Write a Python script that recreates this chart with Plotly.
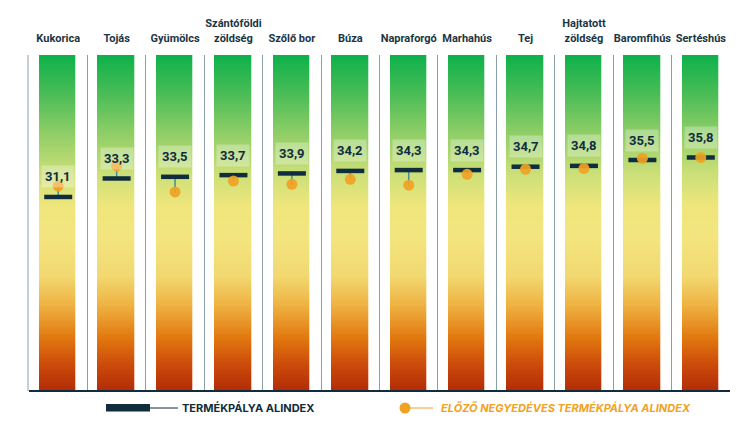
import numpy as np
import plotly.graph_objects as go

categories = ["Kukorica", "Tojás", "Gyümölcs", "Szántóföldi<br>zöldség", "Szőlő bor", "Búza",
              "Napraforgó", "Marhahús", "Tej", "Hajtatott<br>zöldség", "Baromfihús", "Sertéshús"]
current_values = [31.1, 33.3, 33.5, 33.7, 33.9, 34.2, 34.3, 34.3, 34.7, 34.8, 35.5, 35.8]
previous_values = [32.4, 34.8, 31.7, 33.0, 32.6, 33.2, 32.5, 33.8, 34.4, 34.5, 35.7, 35.8]
legend_labels = ["TERMÉKPÁLYA ALINDEX", "ELŐZŐ NEGYEDÉVES TERMÉKPÁLYA ALINDEX"]

Y_MIN, Y_MAX = 8, 48
NAVY = "#0f2d3d"
ORANGE = "#f0a224"
TEAL = "#3f8f9b"
FONT = "Roboto"
LEGEND_FONT = "Inter"

# page has an 8px body margin; figure sized to fit the window
OFF = 8
W, H = 742, 415
L, R, T, B = 21, 20, 47, 32
pw, ph = W - L - R, H - T - B

def px(x):  # page pixel -> paper x
    return (x - OFF - L) / pw

def py(y):  # page pixel -> paper y
    return (H - B - (y - OFF)) / ph

fig = go.Figure()

# gradient columns (background scale of each product)
grid = np.linspace(Y_MIN, Y_MAX, 241)
z = np.tile(grid.reshape(-1, 1), (1, len(categories)))
colorscale = [
    [0.00, "#b22c08"],
    [0.08, "#cc4c0a"],
    [0.16, "#e27a10"],
    [0.25, "#eeb040"],
    [0.34, "#f2d870"],
    [0.45, "#f3e47e"],
    [0.55, "#efe67c"],
    [0.64, "#cfe079"],
    [0.76, "#93cf68"],
    [0.88, "#4dbd57"],
    [1.00, "#0db14b"],
]
fig.add_trace(go.Heatmap(
    x=categories, y=grid, z=z, colorscale=colorscale, zmin=Y_MIN, zmax=Y_MAX,
    showscale=False, xgap=21.7, ygap=0, hoverinfo="skip", zsmooth=False,
))

# connectors
cx, cy = [], []
for c, cur, prev in zip(categories, current_values, previous_values):
    cx += [c, c, None]
    cy += [cur, prev, None]
fig.add_trace(go.Scatter(x=cx, y=cy, mode="lines", line=dict(color=TEAL, width=1.5),
                         hoverinfo="skip", showlegend=False))

# current markers
fig.add_trace(go.Scatter(
    x=categories, y=current_values, mode="markers",
    marker=dict(symbol="line-ew", size=20, line=dict(color=NAVY, width=4.5)),
    showlegend=False,
))
# previous markers
fig.add_trace(go.Scatter(
    x=categories, y=previous_values, mode="markers",
    marker=dict(symbol="circle", size=11, color=ORANGE, opacity=0.92, line=dict(width=0)),
    showlegend=False,
))

annotations = []
for c, cur in zip(categories, current_values):
    annotations.append(dict(
        x=c, y=cur, xref="x", yref="y", yshift=20, showarrow=False,
        text=f"<b>{cur:.1f}</b>".replace(".", ","),
        font=dict(family=FONT, size=13, color=NAVY),
        bgcolor="rgba(255,255,255,0.3)", borderpad=3,
    ))

# legend (drawn)
shapes = []
shapes.append(dict(type="rect", xref="paper", yref="paper", x0=px(106), x1=px(150), y0=py(411.5), y1=py(404),
                   fillcolor=NAVY, line=dict(width=0)))
shapes.append(dict(type="line", xref="paper", yref="paper", x0=px(150), x1=px(178), y0=py(408), y1=py(408),
                   line=dict(color=NAVY, width=1)))
shapes.append(dict(type="line", xref="paper", yref="paper", x0=px(405), x1=px(433), y0=py(408), y1=py(408),
                   line=dict(color=ORANGE, width=1)))
shapes.append(dict(type="circle", xref="paper", yref="paper", x0=px(399.5), x1=px(410.5), y0=py(413.5), y1=py(402.5),
                   fillcolor=ORANGE, line=dict(width=0)))
# bottom axis line
shapes.append(dict(type="line", xref="paper", yref="paper", x0=0, x1=1, y0=0, y1=0,
                   line=dict(color=NAVY, width=2)))

annotations.append(dict(x=px(180), y=py(408), xref="paper", yref="paper", xanchor="left", yanchor="middle",
                        showarrow=False, text=f"<b>{legend_labels[0]}</b>",
                        font=dict(family=LEGEND_FONT, size=11, color=NAVY)))
annotations.append(dict(x=px(439), y=py(408), xref="paper", yref="paper", xanchor="left", yanchor="middle",
                        showarrow=False, text=f"<b><i>{legend_labels[1]}</i></b>",
                        font=dict(family=LEGEND_FONT, size=11, color=ORANGE)))

fig.update_layout(
    width=W, height=H,
    margin=dict(l=L, r=R, t=T, b=B),
    plot_bgcolor="white", paper_bgcolor="white",
    showlegend=False,
    annotations=annotations, shapes=shapes,
    xaxis=dict(
        type="category", side="top", tickson="boundaries", ticks="", showgrid=True,
        gridcolor="#8a9ea8", gridwidth=1.3, showline=False, zeroline=False,
        tickfont=dict(family=FONT, size=11, color="#1c3545", weight="bold"),
        tickangle=0, automargin=False, ticklabelstandoff=10,
        range=[-0.5, len(categories) - 0.5],
    ),
    yaxis=dict(range=[Y_MIN, Y_MAX], showgrid=False, showticklabels=False, zeroline=False,
               showline=True, linecolor="#c5d0d6", linewidth=1.5, automargin=False),
)

fig.write_html("out.html")
